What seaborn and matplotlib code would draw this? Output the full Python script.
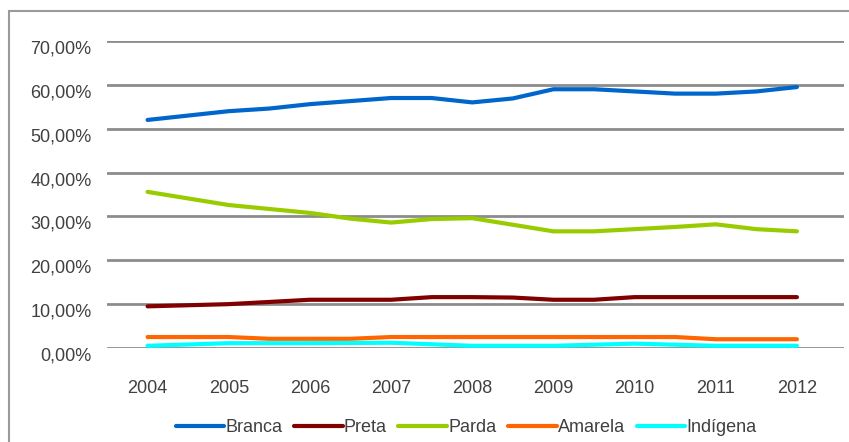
import matplotlib
matplotlib.use("Agg")
import matplotlib.pyplot as plt
import matplotlib.ticker as mticker
from matplotlib.patches import Rectangle
from matplotlib.transforms import ScaledTranslation
import seaborn as sns
import pandas as pd

years = [2004, 2004.5, 2005, 2005.5, 2006, 2006.5, 2007, 2007.5, 2008,
         2008.5, 2009, 2009.5, 2010, 2010.5, 2011, 2011.5, 2012]
tick_years = [2004, 2005, 2006, 2007, 2008, 2009, 2010, 2011, 2012]

branca = [52.0, 53.0, 54.0, 54.6, 55.6, 56.3, 57.0, 57.0, 56.0,
          56.9, 59.0, 59.0, 58.5, 58.0, 58.0, 58.5, 59.5]
preta = [9.5, 9.75, 10.0, 10.5, 11.0, 11.0, 11.0, 11.6, 11.6,
         11.5, 11.0, 11.0, 11.6, 11.6, 11.6, 11.6, 11.6]
parda = [35.6, 34.1, 32.6, 31.7, 30.8, 29.5, 28.6, 29.4, 29.6,
         28.1, 26.6, 26.6, 27.1, 27.6, 28.2, 27.1, 26.6]
amarela = [2.5, 2.5, 2.5, 2.1, 2.1, 2.1, 2.5, 2.5, 2.5,
           2.5, 2.5, 2.5, 2.5, 2.5, 2.0, 2.0, 2.0]
indigena = [0.5, 0.8, 1.1, 1.1, 1.1, 1.15, 1.2, 0.85, 0.5,
            0.5, 0.5, 0.75, 1.0, 0.75, 0.5, 0.5, 0.5]

series_names = ["Branca", "Preta", "Parda", "Amarela", "Indígena"]
series_values = [branca, preta, parda, amarela, indigena]
colors = ["#0066CC", "#800000", "#99CC00", "#FF6600", "#00FFFF"]

rows = []
for name, vals in zip(series_names, series_values):
    for y, v in zip(years, vals):
        rows.append({"ano": y, "valor": v, "cor": name})
df = pd.DataFrame(rows)

sns.set_theme(style="white")
plt.rcParams["font.family"] = ["Liberation Sans", "DejaVu Sans"]

fig = plt.figure(figsize=(8.49, 4.42), dpi=100)
ax = fig.add_axes([107 / 849, 1 - 348 / 442, (844 - 107) / 849, (348 - 41) / 442])

sns.lineplot(data=df, x="ano", y="valor", hue="cor", hue_order=series_names,
             palette=colors, linewidth=3.0, ax=ax, legend=True)

ax.set_xlim(2003.5, 2012.58)
ax.set_ylim(0, 70)
ax.set_yticks(range(0, 71, 10))
ax.yaxis.set_major_formatter(mticker.FuncFormatter(lambda v, p: f"{v:.2f}%".replace(".", ",")))
ax.set_xticks(tick_years)
ax.set_xticklabels([str(t) for t in tick_years])
ax.grid(axis="y", color="#8c8c8c", linewidth=2.0)
ax.grid(axis="x", visible=False)
ax.set_axisbelow(True)
for s in ax.spines.values():
    s.set_visible(False)
ax.set_xlabel("")
ax.set_ylabel("")
ax.tick_params(axis="y", length=0, pad=11, labelsize=13, labelcolor="#404040")
ax.tick_params(axis="x", length=0, pad=23, labelsize=13, labelcolor="#404040")
off = ScaledTranslation(0, -6 / 100, fig.dpi_scale_trans)
for lbl in ax.get_yticklabels():
    lbl.set_transform(lbl.get_transform() + off)

handles, labels = ax.get_legend_handles_labels()
ax.legend_.remove()
leg = fig.legend(handles, labels, loc="center", bbox_to_anchor=(466 / 849, 1 - 428 / 442),
                 ncol=5, frameon=False, fontsize=13, handlelength=2.7,
                 handletextpad=0.05, columnspacing=0.65, labelcolor="#404040")
for lh in leg.get_lines():
    lh.set_linewidth(3.0)

fig.patches.append(Rectangle((9 / 849, -0.1), 1.2, 1 + 0.1 - 11 / 442,
                             transform=fig.transFigure, fill=False,
                             edgecolor="#9a9a9a", linewidth=1.5))

fig.savefig("out.png", dpi=100)
